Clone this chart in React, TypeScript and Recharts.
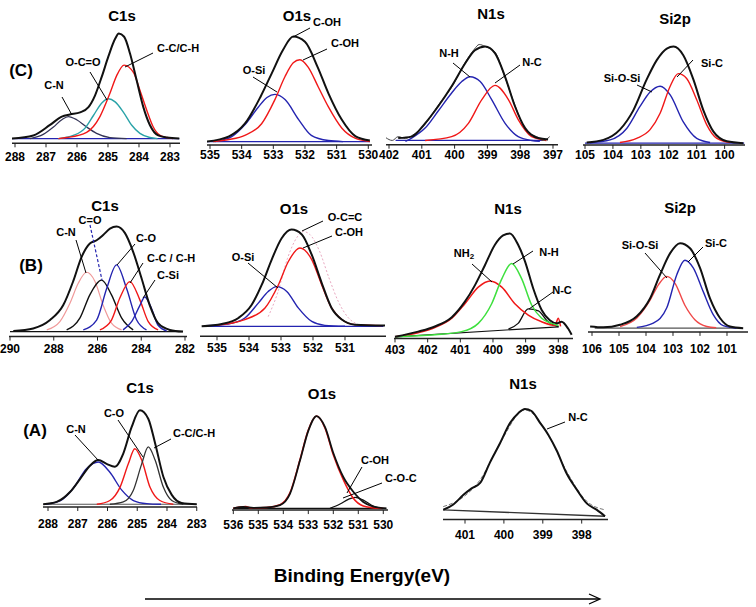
import React from 'react';
import { LineChart, Line, XAxis, YAxis } from 'recharts';

// ---- tick labels (binding energy, eV) ----
const ticksC1sC = [288, 287, 286, 285, 284, 283];
const ticksO1sC = [535, 534, 533, 532, 531, 530];
const ticksN1sC = [402, 401, 400, 399, 398, 397];
const ticksSiC = [105, 104, 103, 102, 101, 100];
const ticksC1sB = [290, 288, 286, 284, 282];
const ticksO1sB = [535, 534, 533, 532, 531];
const ticksN1sB = [403, 402, 401, 400, 399, 398];
const ticksSiB = [106, 105, 104, 103, 102, 101];
const ticksC1sA = [288, 287, 286, 285, 284, 283];
const ticksO1sA = [536, 535, 534, 533, 532, 531, 530];
const ticksN1sA = [401, 400, 399, 398];

// ---- (C) C1s ----  [energy, intensity]
const cC1sEnv = [[288.1, 0], [287.41, 3], [286.87, 13], [286.49, 21], [286.23, 23], [285.9, 25], [285.63, 30], [285.42, 41], [285.2, 59], [284.99, 78], [284.77, 95], [284.65, 100], [284.48, 97], [284.29, 81], [284.08, 56], [283.86, 30], [283.65, 13], [283.38, 3], [283.1, 1], [282.7, 0]];
const cC1sCC = [[286.6, 0], [286.33, 1], [285.69, 6], [285.26, 21], [284.94, 43], [284.72, 60], [284.48, 70], [284.18, 63], [283.97, 46], [283.75, 27], [283.54, 11], [283.32, 3], [283.1, 1], [282.9, 0]];
const cC1sOCO = [[286.6, 0], [286.12, 3], [285.74, 10], [285.47, 22], [285.2, 34], [284.99, 38], [284.77, 35], [284.5, 25], [284.24, 13], [283.97, 5], [283.65, 1], [283.4, 0]];
const cC1sCN = [[287.52, 0], [287.09, 4], [286.76, 11], [286.49, 18], [286.28, 21], [286.01, 18], [285.69, 11], [285.37, 5], [284.94, 1], [284.4, 0]];
const cC1sBase = [[288.1, 0], [282.7, 0]];

// ---- (C) O1s ----
const cO1sEnv = [[535.1, 0], [534.4, 5], [533.9, 17], [533.4, 43], [533.05, 65], [532.7, 87], [532.37, 100], [532.0, 95], [531.6, 71], [531.26, 46], [530.84, 21], [530.4, 5], [529.95, 1]];
const cO1sCOH = [[534.9, 0], [534.4, 2], [533.9, 6], [533.37, 17], [532.95, 40], [532.63, 62], [532.37, 75], [532.16, 78], [531.9, 71], [531.58, 52], [531.26, 33], [530.84, 13], [530.4, 3], [529.95, 0]];
const cO1sOSi = [[534.84, 0], [534.3, 5], [533.9, 16], [533.47, 33], [533.2, 42], [532.95, 45], [532.63, 40], [532.2, 21], [531.8, 6], [531.26, 1], [530.8, 0]];
const cO1sBase = [[535.1, 0], [529.95, 0]];

// ---- (C) N1s ----
const cN1sEnv = [[401.72, 3.5], [401.31, 5], [400.9, 19], [400.5, 37], [400.09, 58], [399.68, 82], [399.38, 96], [399.07, 100], [398.77, 93], [398.46, 68], [398.16, 37], [397.85, 14], [397.45, 3.5], [397.15, 2]];
const cN1sRaw = [[402.1, 4], [401.9, 1], [401.72, 5], [401.5, 3], [401.31, 6], [400.9, 18], [400.5, 38], [400.09, 57], [399.68, 83], [399.4, 97], [399.25, 102], [399.07, 100], [398.77, 94], [398.46, 67], [398.16, 38], [397.85, 13], [397.45, 4], [397.3, 1], [397.1, 5]];
const cN1sNH = [[401.5, 0], [401.31, 3.5], [400.9, 14], [400.5, 32], [400.09, 51], [399.78, 63], [399.53, 68], [399.22, 63], [398.87, 44], [398.46, 19], [398.06, 5], [397.65, 1], [397.4, 0]];
const cN1sNC = [[400.9, 1], [400.09, 5], [399.58, 19], [399.17, 44], [398.77, 59], [398.36, 44], [398.06, 23], [397.65, 5], [397.35, 2], [397.2, 1]];
const cN1sBase = [[401.8, 1], [397.3, 1]];

// ---- (C) Si2p ----
const cSiEnv = [[104.94, 0.7], [104.34, 3.4], [103.75, 14], [103.27, 34], [102.79, 66], [102.43, 86], [102.07, 98], [101.83, 100], [101.48, 91], [101.12, 66], [100.76, 34], [100.4, 12], [99.92, 2], [99.33, 0]];
const cSiOSi = [[104.82, 0.5], [104.1, 3.4], [103.5, 15.5], [103.03, 38], [102.67, 53], [102.31, 59], [101.95, 50], [101.48, 22], [101.0, 5], [100.52, 0.7]];
const cSiSiC = [[103.75, 0.7], [103.15, 5], [102.67, 14], [102.31, 31], [101.95, 59], [101.66, 72], [101.36, 67], [101.0, 45], [100.64, 19], [100.28, 5], [99.8, 0.7]];
const cSiBase = [[105.0, 0], [99.3, 0]];

// ---- (B) C1s ----
const bC1sEnv = [[289.85, 0.6], [288.94, 3], [288.17, 11], [287.57, 25], [287.11, 48], [286.73, 71], [286.35, 84], [286.04, 87], [285.74, 92], [285.43, 98], [285.13, 100], [284.75, 94], [284.37, 76], [283.99, 51], [283.61, 25], [283.23, 8], [282.69, 1.6], [282.09, 0]];
const bC1sCN = [[288.32, 1.6], [287.72, 9.5], [287.26, 27], [286.88, 46], [286.5, 56.5], [286.12, 48], [285.74, 25], [285.36, 8], [284.9, 1.6]];
const bC1sCO2 = [[287.41, 1.6], [286.8, 13], [286.35, 35], [285.81, 49], [285.36, 35], [284.9, 13], [284.37, 1.6]];
const bC1sCO = [[286.65, 1.6], [286.04, 11], [285.58, 41], [285.13, 63.5], [284.67, 41], [284.21, 11], [283.76, 1.6]];
const bC1sCC = [[285.89, 1.6], [285.36, 11], [284.98, 32], [284.52, 47.6], [284.06, 30], [283.68, 9.5], [283.23, 1.6]];
const bC1sCSi = [[284.83, 1.6], [284.44, 9.5], [284.06, 25], [283.84, 33], [283.53, 22], [283.23, 6], [282.84, 0.6]];
const bC1sBase = [[290, 0], [282.1, 0]];

// ---- (B) O1s ----
const bO1sEnv = [[535.48, 0], [534.85, 2.4], [534.33, 8.6], [533.92, 22], [533.6, 43], [533.29, 69], [532.98, 91], [532.67, 100], [532.35, 95], [532.04, 74], [531.73, 45], [531.42, 19], [531.1, 7], [530.69, 1.7], [529.75, 0.7]];
const bO1sCOH = [[535.06, 1], [534.13, 7], [533.5, 19], [533.08, 43], [532.77, 67], [532.41, 81], [532.04, 69], [531.73, 43], [531.42, 19], [531.1, 7], [530.69, 1.7], [529.85, 0.7]];
const bO1sOSi = [[535.38, 0.5], [534.65, 2.4], [534.13, 8.6], [533.71, 24], [533.4, 36], [533.14, 41], [532.82, 36], [532.46, 19], [532.04, 5], [531.63, 1], [531.0, 0]];
const bO1sOCC = [[533.4, 10], [533.1, 35], [532.8, 70], [532.5, 92], [532.3, 98], [532.1, 95], [531.8, 78], [531.5, 50], [531.2, 25], [530.9, 9], [530.6, 2]];
const bO1sBase = [[535.4, 0], [529.8, 0]];

// ---- (B) N1s ----
const bN1sEnv = [[403.0, 0], [402.29, 5], [401.78, 10], [401.26, 19], [400.86, 34], [400.55, 50], [400.25, 69], [399.94, 89], [399.69, 98], [399.48, 100], [399.23, 89], [399.02, 73], [398.77, 47], [398.51, 26], [398.26, 16], [398.05, 13], [397.9, 14.5], [397.7, 8], [397.59, 2]];
const bN1sNH2 = [[403.0, 0], [402.29, 4], [401.78, 9], [401.26, 18], [400.86, 32], [400.45, 48], [400.09, 54], [399.73, 48], [399.33, 32], [398.92, 21], [398.51, 14.5], [398.1, 11], [398.0, 18], [397.93, 10]];
const bN1sNH = [[403.0, 0], [401.78, 2], [400.96, 5], [400.45, 13], [400.04, 32], [399.73, 56], [399.43, 71], [399.12, 56], [398.82, 31], [398.51, 18], [398.2, 13], [397.99, 11]];
const bN1sNC = [[399.53, 7.4], [399.23, 13], [398.92, 27], [398.61, 25], [398.31, 14.5], [397.99, 9.7]];
const bN1sBase = [[403.0, 0], [397.99, 9.7]];

// ---- (B) Si2p ----
const bSiEnv = [[106.07, 2], [105.58, 1], [104.96, 4], [104.34, 14], [103.85, 35], [103.48, 63], [103.11, 88], [102.74, 100], [102.37, 94], [102.0, 71], [101.63, 35], [101.26, 12], [100.89, 2], [100.4, 0]];
const bSiOSi = [[104.96, 2], [104.34, 12], [103.85, 33], [103.54, 51], [103.23, 61], [102.93, 53], [102.56, 27], [102.19, 10], [101.75, 2], [101.4, 0.5]];
const bSiSiC = [[104.34, 1], [103.73, 6], [103.23, 24], [102.86, 63], [102.56, 80], [102.25, 71], [101.88, 43], [101.51, 16], [101.14, 3], [100.65, 0]];
const bSiBase = [[105.9, 0], [100.5, 0]];

// ---- (A) C1s ----
const aC1sEnv = [[288.16, 0], [287.71, 2.5], [287.26, 13], [286.92, 27], [286.59, 41], [286.31, 47], [286.03, 43], [285.75, 40], [285.47, 54], [285.19, 82], [284.91, 100], [284.63, 91], [284.4, 65], [284.12, 29], [283.84, 10], [283.51, 1.4], [283.0, 0]];
const aC1sCN = [[288.1, 0], [287.6, 3.5], [287.15, 17], [286.7, 38], [286.31, 45], [285.92, 34], [285.52, 15], [285.13, 4], [284.68, 0.7], [284.2, 0]];
const aC1sCO = [[286.36, 0], [285.92, 4], [285.58, 18], [285.3, 43], [285.08, 59], [284.85, 47], [284.57, 18], [284.24, 4], [283.79, 0]];
const aC1sCC = [[285.92, 0], [285.47, 2.5], [285.13, 15], [284.85, 43], [284.63, 61], [284.4, 47], [284.12, 18], [283.84, 4], [283.45, 0]];
const aC1sBase = [[288.2, 0], [283.0, 0]];

// ---- (A) O1s ----
const aO1sEnv = [[536, 0], [535.6, 1.5], [535.2, 0.5], [534.67, 1], [534.13, 3.6], [533.73, 16], [533.33, 52], [533.0, 84], [532.67, 100], [532.33, 88], [532.0, 60], [531.6, 34], [531.2, 18], [530.8, 7], [530.4, 2], [529.87, 0]];
const aO1sMain = [[536, 0], [535.5, 2], [535.3, 0.5], [534.67, 1], [534.13, 4], [533.73, 17], [533.33, 53], [533.0, 85], [532.67, 100], [532.33, 87], [532.0, 58], [531.6, 31], [531.2, 11], [530.8, 2.5], [530.4, 0.5], [530.0, 0]];
const aO1sCOH = [[532.13, 0], [531.73, 4.7], [531.4, 9.7], [531.13, 12], [530.8, 9], [530.4, 2.5], [530.07, 0]];
const aO1sBase = [[536, 0], [529.9, 0]];

// ---- (A) N1s ----
const aN1sEnv = [[401.56, 6], [401.3, 11], [401.04, 20], [400.83, 26], [400.61, 31], [400.36, 50], [400.1, 68], [399.84, 87], [399.63, 96], [399.46, 100], [399.29, 98], [399.07, 87], [398.86, 76], [398.64, 61], [398.39, 40], [398.13, 25], [397.87, 12], [397.61, 6], [397.4, 0]];
const aN1sFit = [[401.56, 9], [401.04, 18], [400.61, 34], [400.1, 68], [399.46, 99], [398.86, 76], [398.39, 42], [397.87, 14], [397.4, 6]];
const aN1sBase = [[401.56, 6], [397.4, 0]];

const pts = (a: number[][]) => a.map(([e, y]) => ({ e, y }));

const K = '#111';
const RED = '#f01818';
const BLUE = '#2424b0';

type Series = { d: number[][]; c: string; w: number; dash?: string; lin?: boolean };
type Layout = { tA: number; pA: number; tB: number; pB: number; aL: number; aR: number; axisY: number; y0: number; y100: number; lab: number };

function Panel({ lay, ticks, series }: { lay: Layout; ticks: number[]; series: Series[] }) {
  const { tA, pA, tB, pB, aL, aR, axisY, y0, y100, lab } = lay;
  const s = (pB - pA) / (tA - tB);
  const eHi = tA + (pA - aL) / s;
  const eLo = tB - (aR - pB) / s;
  const k = (y0 - y100) / 100;
  const yMin = -(axisY - y0) / k;
  const top = y100 - 12 * k;
  const M = 16;
  const AX = 26;
  const width = aR - aL + 2 * M;
  const height = axisY - top + AX;
  return (
    <div style={{ position: 'absolute', left: aL - M, top, width, height }}>
      <LineChart width={width} height={height} margin={{ top: 0, right: M, bottom: 0, left: M }}>
        <XAxis
          type="number"
          dataKey="e"
          domain={[eLo, eHi]}
          reversed
          allowDataOverflow
          ticks={ticks}
          interval={0}
          height={AX}
          tickSize={4}
          tickMargin={lab - 8.2}
          axisLine={{ stroke: '#222', strokeWidth: 1.5 }}
          tickLine={{ stroke: '#222' }}
          tick={{ fill: '#000', fontSize: 12, fontWeight: 'bold', fontFamily: 'Liberation Sans, Arial, sans-serif' }}
        />
        <YAxis type="number" hide domain={[yMin, 112]} allowDataOverflow />
        {series.map((sr, i) => (
          <Line
            key={i}
            data={pts(sr.d)}
            dataKey="y"
            type={sr.lin ? 'linear' : 'monotone'}
            stroke={sr.c}
            strokeWidth={sr.w}
            strokeDasharray={sr.dash}
            dot={false}
            activeDot={false}
            isAnimationActive={false}
          />
        ))}
      </LineChart>
    </div>
  );
}

// layouts (pixel anchors of the reference)
const L_C_C1S: Layout = { tA: 288, pA: 15, tB: 283, pB: 170, aL: 12, aR: 180, axisY: 143, y0: 138.3, y100: 33.3, lab: 13.7 };
const L_C_O1S: Layout = { tA: 535, pA: 210, tB: 530, pB: 368.3, aL: 207, aR: 372, axisY: 145, y0: 141.7, y100: 36.7, lab: 10 };
const L_C_N1S: Layout = { tA: 402, pA: 389, tB: 397, pB: 553, aL: 386, aR: 558, axisY: 145, y0: 141.7, y100: 46.7, lab: 10 };
const L_C_SI: Layout = { tA: 105, pA: 585, tB: 101, pB: 696.7, aL: 583, aR: 745, axisY: 145, y0: 143.3, y100: 46.7, lab: 10 };
const L_B_C1S: Layout = { tA: 290, pA: 10, tB: 282, pB: 185, aL: 9, aR: 187, axisY: 336.7, y0: 331.7, y100: 226.7, lab: 11.7 };
const L_B_O1S: Layout = { tA: 535, pA: 217, tB: 531, pB: 345, aL: 200, aR: 386, axisY: 336.7, y0: 326.7, y100: 230, lab: 11.7 };
const L_B_N1S: Layout = { tA: 403, pA: 395, tB: 398, pB: 558.3, aL: 394, aR: 573, axisY: 338.3, y0: 336.7, y100: 233.3, lab: 11.7 };
const L_B_SI: Layout = { tA: 106, pA: 592, tB: 101, pB: 727, aL: 588, aR: 748, axisY: 332, y0: 328.3, y100: 243.3, lab: 16.3 };
const L_A_C1S: Layout = { tA: 288, pA: 48, tB: 284, pB: 167, aL: 43, aR: 197, axisY: 506.7, y0: 504, y100: 410, lab: 16.7 };
const L_A_O1S: Layout = { tA: 536, pA: 233.3, tB: 530, pB: 383.3, aL: 232, aR: 388, axisY: 510, y0: 508.3, y100: 416, lab: 15 };
const L_A_N1S: Layout = { tA: 401, pA: 465, tB: 398, pB: 581.7, aL: 443, aR: 608, axisY: 520, y0: 516.7, y100: 409.3, lab: 15 };

// annotation text: [x, y, text, anchor]
const titles: [number, number, string][] = [
  [122, 15, 'C1s'], [297, 15, 'O1s'], [491, 13, 'N1s'], [675, 18, 'Si2p'],
  [105, 205, 'C1s'], [294, 208, 'O1s'], [508, 208, 'N1s'], [680, 207, 'Si2p'],
  [140, 387, 'C1s'], [322, 393, 'O1s'], [523, 383, 'N1s'],
];
const rows: [number, number, string][] = [[21, 70, '(C)'], [31, 265, '(B)'], [35, 430, '(A)']];
const notes: [number, number, string, 'middle' | 'start'][] = [
  [54, 85, 'C-N', 'middle'], [83, 62, 'O-C=O', 'middle'], [157, 48, 'C-C/C-H', 'start'],
  [254, 70, 'O-Si', 'middle'], [327, 22, 'C-OH', 'middle'], [345, 43, 'C-OH', 'middle'],
  [449, 53, 'N-H', 'middle'], [532, 62, 'N-C', 'middle'],
  [622, 78, 'Si-O-Si', 'middle'], [712, 63, 'Si-C', 'middle'],
  [66, 232, 'C-N', 'middle'], [90, 220, 'C=O', 'middle'], [146, 238, 'C-O', 'middle'],
  [147, 258, 'C-C / C-H', 'start'], [157, 275, 'C-Si', 'start'],
  [243, 257, 'O-Si', 'middle'], [345, 217, 'O-C=C', 'middle'], [349, 232, 'C-OH', 'middle'],
  [549, 252, 'N-H', 'middle'], [562, 290, 'N-C', 'middle'],
  [640, 245, 'Si-O-Si', 'middle'], [716, 243, 'Si-C', 'middle'],
  [76, 429, 'C-N', 'middle'], [114, 413, 'C-O', 'middle'], [173, 433, 'C-C/C-H', 'start'],
  [375, 460, 'C-OH', 'middle'], [385, 478, 'C-O-C', 'start'], [578, 417, 'N-C', 'middle'],
];
// leader lines: x1, y1, x2, y2
const leaders: number[][] = [
  [62, 97, 72, 115], [90, 72, 107, 100], [153, 53, 125, 67],
  [253, 77, 277, 92], [310, 28, 293, 37], [327, 49, 303, 60],
  [453, 63, 470, 77], [520, 65, 495, 83], [637, 85, 652, 92], [693, 60, 677, 77],
  [76, 240, 86, 273], [135, 244, 117, 265], [143, 263, 130, 283], [155, 280, 143, 298],
  [248, 263, 278, 288], [323, 221, 302, 231], [332, 236, 303, 248],
  [472, 264, 492, 282], [533, 251, 513, 264], [553, 292, 529, 309],
  [645, 253, 667, 278], [703, 247, 688, 262],
  [75, 435, 98, 460], [118, 420, 143, 457], [171, 439, 154, 448],
  [362, 467, 347, 493], [382, 483, 343, 498], [565, 422, 547, 429],
];

export default function App() {
  const font = 'Liberation Sans, Arial, sans-serif';
  return (
    <div style={{ position: 'absolute', left: 0, top: 0, width: 756, height: 607, background: '#fff', overflow: 'hidden', fontFamily: font }}>
      <Panel lay={L_C_C1S} ticks={ticksC1sC} series={[
        { d: cC1sBase, c: BLUE, w: 1.2, lin: true },
        { d: cC1sCN, c: '#333355', w: 1.3 },
        { d: cC1sOCO, c: '#2aa3a8', w: 1.4 },
        { d: cC1sCC, c: RED, w: 1.4 },
        { d: cC1sEnv, c: K, w: 2 },
      ]} />
      <Panel lay={L_C_O1S} ticks={ticksO1sC} series={[
        { d: cO1sBase, c: BLUE, w: 1.2, lin: true },
        { d: cO1sOSi, c: BLUE, w: 1.4 },
        { d: cO1sCOH, c: RED, w: 1.4 },
        { d: cO1sEnv, c: K, w: 2 },
      ]} />
      <Panel lay={L_C_N1S} ticks={ticksN1sC} series={[
        { d: cN1sBase, c: BLUE, w: 1.2, lin: true },
        { d: cN1sNH, c: BLUE, w: 1.4 },
        { d: cN1sNC, c: RED, w: 1.4 },
        { d: cN1sRaw, c: '#444', w: 1 },
        { d: cN1sEnv, c: K, w: 2 },
      ]} />
      <Panel lay={L_C_SI} ticks={ticksSiC} series={[
        { d: cSiBase, c: BLUE, w: 1.2, lin: true },
        { d: cSiOSi, c: BLUE, w: 1.4 },
        { d: cSiSiC, c: RED, w: 1.4 },
        { d: cSiEnv, c: K, w: 2 },
      ]} />
      <Panel lay={L_B_C1S} ticks={ticksC1sB} series={[
        { d: bC1sBase, c: K, w: 1.2, lin: true },
        { d: bC1sCN, c: '#f09a9a', w: 1.2 },
        { d: bC1sCO2, c: K, w: 1.4 },
        { d: bC1sCO, c: BLUE, w: 1.4 },
        { d: bC1sCC, c: RED, w: 1.4 },
        { d: bC1sCSi, c: BLUE, w: 1.4 },
        { d: bC1sEnv, c: K, w: 2 },
      ]} />
      <Panel lay={L_B_O1S} ticks={ticksO1sB} series={[
        { d: bO1sBase, c: BLUE, w: 1.2, lin: true },
        { d: bO1sOCC, c: '#e8a8c0', w: 1, dash: '2 2' },
        { d: bO1sOSi, c: BLUE, w: 1.4 },
        { d: bO1sCOH, c: RED, w: 1.4 },
        { d: bO1sEnv, c: K, w: 2 },
      ]} />
      <Panel lay={L_B_N1S} ticks={ticksN1sB} series={[
        { d: bN1sBase, c: K, w: 1.2, lin: true },
        { d: bN1sNC, c: K, w: 1.3 },
        { d: bN1sNH2, c: RED, w: 1.5 },
        { d: bN1sNH, c: '#3ee03e', w: 1.5 },
        { d: bN1sEnv, c: K, w: 2 },
      ]} />
      <Panel lay={L_B_SI} ticks={ticksSiB} series={[
        { d: bSiBase, c: '#555', w: 1.2, lin: true },
        { d: bSiOSi, c: '#f04848', w: 1.4 },
        { d: bSiSiC, c: BLUE, w: 1.4 },
        { d: bSiEnv, c: K, w: 2 },
      ]} />
      <Panel lay={L_A_C1S} ticks={ticksC1sA} series={[
        { d: aC1sBase, c: '#555', w: 1.2, lin: true },
        { d: aC1sCN, c: BLUE, w: 1.4 },
        { d: aC1sCO, c: RED, w: 1.4 },
        { d: aC1sCC, c: '#333', w: 1.3 },
        { d: aC1sEnv, c: K, w: 2 },
      ]} />
      <Panel lay={L_A_O1S} ticks={ticksO1sA} series={[
        { d: aO1sBase, c: K, w: 1.2, lin: true },
        { d: aO1sCOH, c: K, w: 1.3 },
        { d: aO1sMain, c: RED, w: 1.6 },
        { d: aO1sEnv, c: K, w: 1.8 },
      ]} />
      <Panel lay={L_A_N1S} ticks={ticksN1sA} series={[
        { d: aN1sBase, c: '#333', w: 1.4, lin: true },
        { d: aN1sFit, c: '#777', w: 1, dash: '4 2' },
        { d: aN1sEnv, c: K, w: 2 },
      ]} />

      <svg width={756} height={607} style={{ position: 'absolute', left: 0, top: 0, pointerEvents: 'none' }}>
        {titles.map(([x, y, t], i) => (
          <text key={'t' + i} x={x} y={y} textAnchor="middle" dominantBaseline="central" fontSize={15} fontWeight="bold" fontFamily={font} fill="#000">{t}</text>
        ))}
        {rows.map(([x, y, t], i) => (
          <text key={'r' + i} x={x} y={y} textAnchor="middle" dominantBaseline="central" fontSize={17} fontWeight="bold" fontFamily={font} fill="#000">{t}</text>
        ))}
        {notes.map(([x, y, t, a], i) => (
          <text key={'n' + i} x={x} y={y} textAnchor={a} dominantBaseline="central" fontSize={11} fontWeight="bold" fontFamily={font} fill="#000">{t}</text>
        ))}
        <text x={464} y={253} textAnchor="middle" dominantBaseline="central" fontSize={11} fontWeight="bold" fontFamily={font} fill="#000">
          NH<tspan fontSize={8} dy={3}>2</tspan>
        </text>
        {leaders.map(([x1, y1, x2, y2], i) => (
          <line key={'l' + i} x1={x1} y1={y1} x2={x2} y2={y2} stroke="#000" strokeWidth={1} />
        ))}
        <line x1={90} y1={225} x2={102} y2={280} stroke={BLUE} strokeWidth={1.2} strokeDasharray="3 2" />
        <text x={362} y={575} textAnchor="middle" dominantBaseline="central" fontSize={19} fontWeight="bold" fontFamily={font} fill="#000">Binding Energy(eV)</text>
        <line x1={145} y1={599} x2={599} y2={599} stroke="#000" strokeWidth={1.5} />
        <polyline points="589,594 600,599 589,604" fill="none" stroke="#000" strokeWidth={1.3} />
      </svg>
    </div>
  );
}
